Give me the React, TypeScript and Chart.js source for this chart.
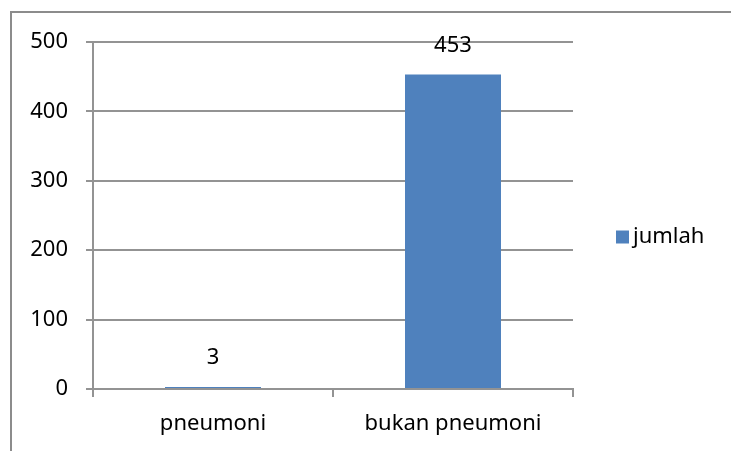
import React, { useEffect, useRef } from "react";
import { Chart, registerables } from "chart.js";

Chart.register(...registerables);

const categories = ["pneumoni", "bukan pneumoni"];
const seriesName = "jumlah";
const values = [3, 453];
const yTicks = [0, 100, 200, 300, 400, 500];

const FONT = "'Noto Sans', sans-serif";
const FONT_SIZE = 22;
const BAR_COLOR = "#4f81bd";
const GRID = "#939393";

const framePlugin = {
  id: "frame",
  beforeDraw(chart: any) {
    const ctx = chart.ctx;
    ctx.save();
    ctx.fillStyle = "#ffffff";
    ctx.fillRect(0, 0, chart.width, chart.height);
    ctx.strokeStyle = "#8c8c8c";
    ctx.lineWidth = 2;
    ctx.beginPath();
    ctx.moveTo(11, chart.height + 5);
    ctx.lineTo(11, 12);
    ctx.lineTo(chart.width + 5, 12);
    ctx.stroke();
    ctx.restore();
  },
  afterDatasetsDraw(chart: any) {
    const ctx = chart.ctx;
    ctx.save();
    ctx.font = `${FONT_SIZE}px ${FONT}`;
    ctx.fillStyle = "#000000";
    ctx.textAlign = "center";
    ctx.textBaseline = "middle";
    const meta = chart.getDatasetMeta(0);
    meta.data.forEach((bar: any, i: number) => {
      ctx.fillText(String(chart.data.datasets[0].data[i]), bar.x, bar.y - 29);
    });
    // legend
    const ds = chart.data.datasets[0];
    const lx = chart.chartArea.right + 43;
    const ly = (chart.chartArea.top + chart.chartArea.bottom) / 2 + 21;
    ctx.fillStyle = ds.backgroundColor;
    ctx.fillRect(lx, ly - 6, 13, 13);
    ctx.fillStyle = "#000000";
    ctx.textAlign = "left";
    ctx.fillText(ds.label, lx + 17, ly);
    ctx.restore();
  },
};

export default function App() {
  const ref = useRef<HTMLCanvasElement | null>(null);
  useEffect(() => {
    if (!ref.current) return;
    const chart = new Chart(ref.current, {
      type: "bar",
      data: {
        labels: categories,
        datasets: [
          {
            label: seriesName,
            data: values,
            backgroundColor: BAR_COLOR,
            barPercentage: 0.4,
            categoryPercentage: 1,
          },
        ],
      },
      options: {
        animation: false,
        responsive: false,
        devicePixelRatio: 1,
        layout: { padding: { top: 42, right: 158, left: 0, bottom: 0 } },
        plugins: {
          legend: { display: false },
          tooltip: { enabled: false },
        },
        scales: {
          x: {
            offset: true,
            grid: {
              offset: true,
              drawOnChartArea: false,
              color: GRID,
              tickLength: 8,
              lineWidth: 2,
            },
            border: { display: true, color: GRID, width: 2 },
            ticks: {
              color: "#000000",
              font: { family: FONT, size: FONT_SIZE },
              padding: 14,
              maxRotation: 0,
            },
            afterFit: (s: any) => {
              s.height = 62;
            },
          },
          y: {
            min: 0,
            max: 500,
            afterBuildTicks: (s: any) => {
              s.ticks = yTicks.map((v) => ({ value: v }));
            },
            grid: { color: GRID, tickLength: 7, lineWidth: 2 },
            border: { display: true, color: GRID, width: 2 },
            ticks: {
              color: "#000000",
              font: { family: FONT, size: FONT_SIZE },
              padding: 18,
            },
            afterFit: (s: any) => {
              s.width = 93;
            },
          },
        },
      },
      plugins: [framePlugin],
    });
    return () => chart.destroy();
  }, []);
  return (
    <div style={{ position: "fixed", left: 0, top: 0, width: 731, height: 451, background: "#fff" }}>
      <canvas ref={ref} width={731} height={451} style={{ width: 731, height: 451 }} />
    </div>
  );
}
